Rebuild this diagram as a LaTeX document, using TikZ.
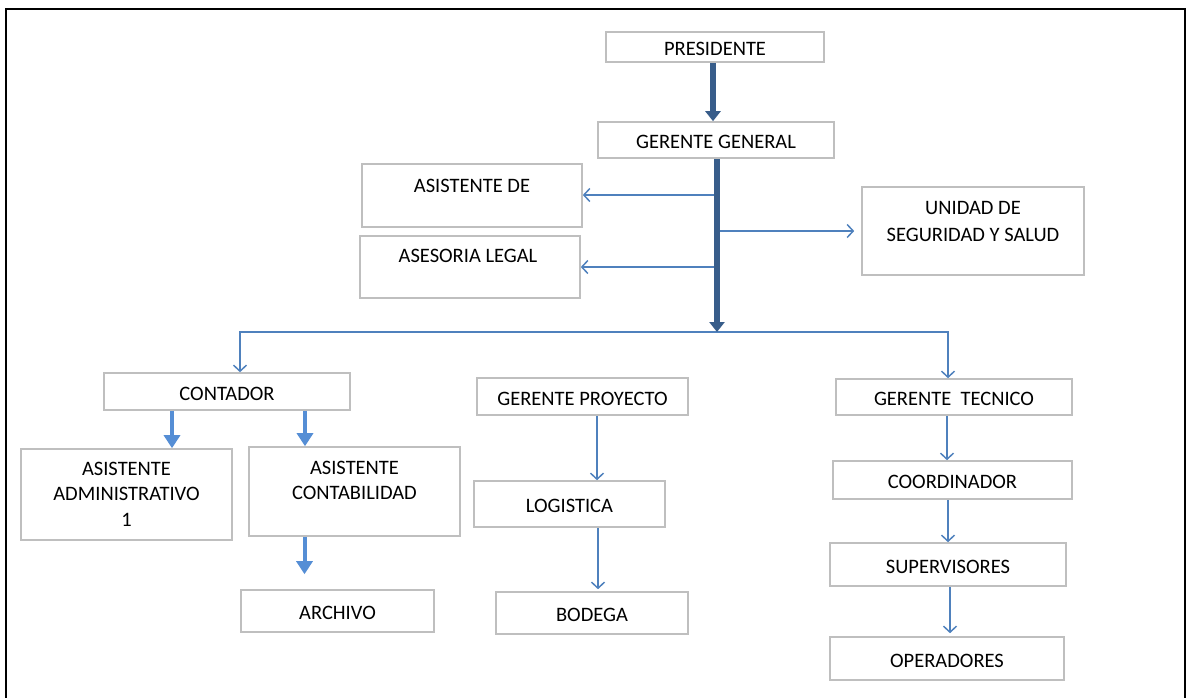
\documentclass[tikz,border=0pt]{standalone}
\usepackage{fontspec}
\setmainfont{Carlito}
\usetikzlibrary{arrows.meta}
\definecolor{boxgray}{HTML}{BFBFBF}
\definecolor{thinblue}{HTML}{4F81BD}
\definecolor{darkblue}{HTML}{385D8A}
\definecolor{lightblue}{HTML}{558ED5}
\tikzset{
  orgbox/.style={draw=boxgray, line width=1.6pt, fill=white, inner sep=0pt, font=\fontsize{20.5}{24}\selectfont, align=center, text height=17pt, text depth=0pt},
  emptybox/.style={draw=boxgray, line width=1.6pt, fill=white, inner sep=0pt},
  lbl/.style={font=\fontsize{20.5}{24}\selectfont, align=center, inner sep=0pt},
  thinarrow/.style={draw=thinblue, line width=1.5pt, -{Straight Barb[length=6pt,width=13pt]}},
  trunkarrow/.style={draw=darkblue, line width=6pt, -{Triangle[length=10pt,width=15pt]}},
  fatarrow/.style={draw=lightblue, line width=4pt, -{Triangle[length=13pt,width=16pt]}},
}
\begin{document}
\begin{tikzpicture}[x=1pt,y=-1pt]
\useasboundingbox (0,0) rectangle (1187,697);
\draw[line width=2pt] (6,705) -- (6,9) -- (1185,9) -- (1185,705);

\node[orgbox, minimum width=218pt, minimum height=30pt] (pres) at (715,47) {PRESIDENTE};
\node[orgbox, minimum width=236pt, minimum height=36pt] (gg) at (716,140) {GERENTE GENERAL};
\node[emptybox, minimum width=220pt, minimum height=63pt] (asis) at (472,195.5) {};
\node[lbl] at (472,186) {ASISTENTE DE};
\node[emptybox, minimum width=220pt, minimum height=62pt] (ases) at (470,267) {};
\node[lbl] at (468,256) {ASESORIA LEGAL};
\node[emptybox, minimum width=222pt, minimum height=88pt] (unid) at (973,231) {};
\node[lbl, font=\fontsize{20.5}{27}\selectfont] at (973,221.5) {UNIDAD DE\\SEGURIDAD Y SALUD};

\node[orgbox, minimum width=246pt, minimum height=37pt] (cont) at (227,391.5) {CONTADOR};
\node[emptybox, minimum width=211pt, minimum height=91pt] (aadm) at (126.5,494.5) {};
\node[lbl, font=\fontsize{20.5}{25.5}\selectfont] at (126.5,494) {ASISTENTE\\ADMINISTRATIVO\\1};
\node[emptybox, minimum width=211pt, minimum height=89pt] (acont) at (354.5,491.5) {};
\node[lbl, font=\fontsize{20.5}{25.5}\selectfont] at (354.5,480.5) {ASISTENTE\\CONTABILIDAD};
\node[orgbox, minimum width=193pt, minimum height=42pt] (arch) at (337.5,611) {ARCHIVO};

\node[orgbox, minimum width=211pt, minimum height=37pt] (gp) at (582.5,396.5) {GERENTE PROYECTO};
\node[orgbox, minimum width=191pt, minimum height=46pt] (log) at (569.5,504) {LOGISTICA};
\node[orgbox, minimum width=192pt, minimum height=42pt] (bod) at (592,613) {BODEGA};

\node[orgbox, minimum width=236pt, minimum height=36pt] (gt) at (954,397) {GERENTE\ \ TECNICO};
\node[orgbox, minimum width=239pt, minimum height=38pt] (coord) at (952.5,480) {COORDINADOR};
\node[orgbox, minimum width=236pt, minimum height=43pt] (sup) at (948,564.5) {SUPERVISORES};
\node[orgbox, minimum width=234pt, minimum height=43pt] (oper) at (947,658.5) {OPERADORES};

% coordinates
\coordinate (pp) at (713,62);
\coordinate (tt) at (717,158);
\coordinate (bus) at (717,332);
\coordinate (t1) at (714,195);
\coordinate (t2) at (719,231);
\coordinate (t3) at (718,267);
\coordinate (bl) at (240,332);
\coordinate (br) at (948,332);

% arrows
\draw[thinarrow] (t1) -- (t1 -| asis.east);
\draw[thinarrow] (t2) -- ([xshift=-7pt]t2 -| unid.west);
\draw[thinarrow] (t3) -- (t3 -| ases.east);
\draw[draw=thinblue, line width=1.5pt, {Straight Barb[length=6pt,width=13pt]}-{Straight Barb[length=6pt,width=13pt]}]
  (bl |- cont.north) -- (bl) -- (br) -- (br |- gt.north);
\draw[trunkarrow] (pp |- pres.south) -- (pp |- gg.north);
\draw[trunkarrow] (tt |- gg.south) -- (bus);

\draw[fatarrow] ([xshift=-55pt]cont.south) -- ([xshift=-55pt]cont.south |- aadm.north);
\draw[fatarrow] ([xshift=78pt]cont.south) -- ([xshift=78pt]cont.south |- acont.north);
\draw[fatarrow] ([xshift=-50pt]acont.south) -- ([xshift=-50pt,yshift=15pt]acont.south |- arch.north);

\draw[thinarrow] ([xshift=14.5pt]gp.south) -- ([xshift=14.5pt]gp.south |- log.north);
\draw[thinarrow] ([xshift=28.5pt]log.south) -- ([xshift=28.5pt,yshift=2pt]log.south |- bod.north);
\draw[thinarrow] ([xshift=-7pt]gt.south) -- ([xshift=-7pt]gt.south |- coord.north);
\draw[thinarrow] ([xshift=-4.5pt]coord.south) -- ([xshift=-4.5pt]coord.south |- sup.north);
\draw[thinarrow] ([xshift=2pt]sup.south) -- ([xshift=2pt,yshift=3pt]sup.south |- oper.north);
\end{tikzpicture}
\end{document}
